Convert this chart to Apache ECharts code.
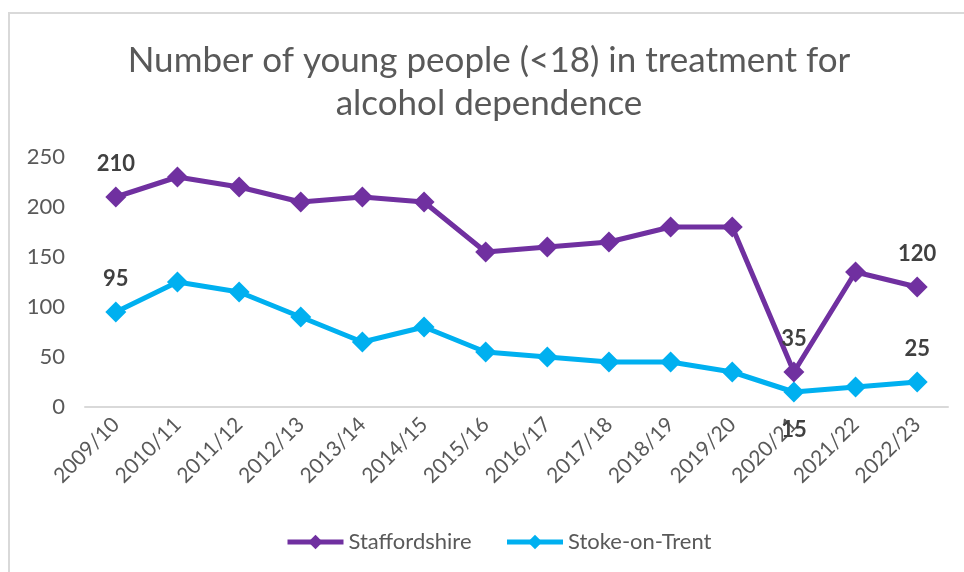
<!DOCTYPE html>
<html>
<head>
<meta charset="utf-8">
<script src="https://cdn.jsdelivr.net/npm/echarts@6/dist/echarts.min.js"></script>
<style>
  html, body { margin: 0; padding: 0; background: #ffffff; }
  #chart { width: 964px; height: 572px; }
</style>
</head>
<body>
<div id="chart"></div>
<script>
// Financial years shown on the category axis
const years = ['2009/10', '2010/11', '2011/12', '2012/13', '2013/14', '2014/15', '2015/16',
               '2016/17', '2017/18', '2018/19', '2019/20', '2020/21', '2021/22', '2022/23'];

// Young people (<18) in treatment for alcohol dependence
const staffordshire = [210, 230, 220, 205, 210, 205, 155, 160, 165, 180, 180, 35, 135, 120];
const stokeOnTrent  = [95, 125, 115, 90, 65, 80, 55, 50, 45, 45, 35, 15, 20, 25];

// Points that carry a value label, and where the label sits
const staffordshireLabelled = { 0: 'top', 11: 'top', 13: 'top' };
const stokeLabelled = { 0: 'top', 11: 'bottom', 13: 'top' };

const yTicks = [0, 50, 100, 150, 200, 250];

const FONT = 'Lato, "Open Sans", sans-serif';
const TEXT = '#595959';

function withLabels(values, labelled) {
  return values.map((v, i) => {
    if (!(i in labelled)) return v;
    return {
      value: v,
      label: {
        show: true,
        position: labelled[i],
        distance: labelled[i] === 'top' ? 12 : 16,
        formatter: '{c}',
        fontFamily: FONT,
        fontWeight: 'bold',
        fontSize: 22,
        color: '#404040'
      }
    };
  });
}

const chart = echarts.init(document.getElementById('chart'), null, { renderer: 'canvas' });

chart.setOption({
  animation: false,
  backgroundColor: '#ffffff',
  graphic: [
    {
      type: 'rect',
      shape: { x: 9, y: 13, width: 1000, height: 620 },
      style: { fill: 'none', stroke: '#d9d9d9', lineWidth: 2 },
      silent: true,
      z: -10
    },
    {
      // chart title, centred over the plot area
      type: 'text',
      x: 489,
      y: 39,
      silent: true,
      style: {
        text: 'Number of young people (<18) in treatment for\nalcohol dependence',
        align: 'center',
        verticalAlign: 'top',
        fontFamily: FONT,
        fontSize: 35,
        lineHeight: 43,
        fill: TEXT
      }
    }
  ],
  legend: {
    bottom: 14,
    left: 280,
    itemWidth: 56,
    itemHeight: 18,
    itemGap: 33,
    lineStyle: { width: 5 },
    textStyle: { fontFamily: FONT, fontSize: 22, color: TEXT },
    data: ['Staffordshire', 'Stoke-on-Trent']
  },
  grid: { left: 85, right: 16, top: 157, bottom: 165, containLabel: false },
  xAxis: {
    type: 'category',
    data: years,
    boundaryGap: true,
    axisLine: { lineStyle: { color: '#d9d9d9', width: 2 } },
    axisTick: { show: false },
    axisLabel: {
      rotate: 45,
      margin: 14,
      interval: 0,
      fontFamily: FONT,
      fontSize: 21,
      color: TEXT
    }
  },
  yAxis: {
    type: 'value',
    min: yTicks[0],
    max: yTicks[yTicks.length - 1],
    interval: 50,
    axisLine: { show: false },
    axisTick: { show: false },
    splitLine: { show: false },
    axisLabel: {
      margin: 20,
      fontFamily: FONT,
      fontSize: 22,
      color: TEXT
    }
  },
  series: [
    {
      name: 'Staffordshire',
      type: 'line',
      data: withLabels(staffordshire, staffordshireLabelled),
      symbol: 'diamond',
      symbolSize: 21,
      lineStyle: { width: 5, color: '#7030A0' },
      itemStyle: { color: '#7030A0' },
      z: 3
    },
    {
      name: 'Stoke-on-Trent',
      type: 'line',
      data: withLabels(stokeOnTrent, stokeLabelled),
      symbol: 'diamond',
      symbolSize: 21,
      lineStyle: { width: 5, color: '#00B0F0' },
      itemStyle: { color: '#00B0F0' },
      z: 2
    }
  ]
});
</script>
</body>
</html>
